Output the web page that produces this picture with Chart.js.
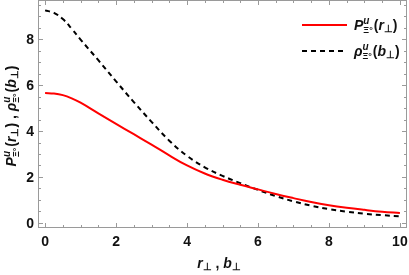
<!DOCTYPE html>
<html>
<head>
<meta charset="utf-8">
<script src="https://cdn.jsdelivr.net/npm/chart.js@4.4.1/dist/chart.umd.min.js"></script>
<style>
  html, body { margin: 0; padding: 0; background: #fff; }
  #wrap { width: 409px; height: 275px; }
</style>
</head>
<body>
<div id="wrap"><canvas id="chart" width="409" height="275"></canvas></div>
<script>
// values
const xValues = [0, 0.25, 0.5, 0.75, 1, 1.5, 2, 2.5, 3, 3.5, 4, 4.5, 5, 5.5, 6, 6.5, 7, 7.5, 8, 8.5, 9, 9.5, 10];
const probValues = [5.65, 5.63, 5.56, 5.42, 5.23, 4.77, 4.31, 3.86, 3.41, 2.94, 2.50, 2.15, 1.88, 1.66, 1.46, 1.26, 1.08, 0.91, 0.77, 0.66, 0.57, 0.49, 0.43];
const densValues = [9.25, 9.14, 8.87, 8.45, 7.98, 7.08, 6.16, 5.26, 4.40, 3.58, 2.92, 2.42, 2.05, 1.73, 1.44, 1.17, 0.94, 0.75, 0.60, 0.49, 0.40, 0.34, 0.29];
const xTicks = [0, 2, 4, 6, 8, 10];
const yTicks = [0, 2, 4, 6, 8];

const FONT = '"Liberation Sans", Arial, sans-serif';
const FRAME = '#9a9a9a';

// draw a run of segments: {t, it, sz, dy}; stacked sup/sub via {stack}
function drawRich(ctx, parts, x, y) {
  let cx = x;
  parts.forEach(p => {
    if (p.stack) {
      ctx.font = 'italic bold 10px ' + FONT;
      const w1 = ctx.measureText(p.stack.sup).width;
      ctx.fillText(p.stack.sup, cx, y - 6);
      ctx.font = 'bold 9px ' + FONT;
      const w2 = ctx.measureText(p.stack.sub).width;
      ctx.fillText(p.stack.sub, cx, y + 3);
      cx += Math.max(w1, w2) + 1;
    } else {
      ctx.font = (p.it ? 'italic ' : '') + 'bold ' + (p.sz || 14) + 'px ' + FONT;
      ctx.fillText(p.t, cx, y + (p.dy || 0));
      cx += ctx.measureText(p.t).width;
    }
  });
  return cx - x;
}

function measureRich(ctx, parts) {
  let w = 0;
  parts.forEach(p => {
    if (p.stack) {
      ctx.font = 'italic bold 10px ' + FONT;
      const w1 = ctx.measureText(p.stack.sup).width;
      ctx.font = 'bold 9px ' + FONT;
      w += Math.max(w1, ctx.measureText(p.stack.sub).width) + 1;
    } else {
      ctx.font = (p.it ? 'italic ' : '') + 'bold ' + (p.sz || 14) + 'px ' + FONT;
      w += ctx.measureText(p.t).width;
    }
  });
  return w;
}

const pLabel = [
  { t: 'P', it: true },
  { stack: { sup: 'u', sub: 'Ξ°' } },
  { t: '(' }, { t: 'r', it: true }, { t: '⊥', sz: 10, dy: 2 }, { t: ')' }
];
const rhoLabel = [
  { t: 'ρ', it: true },
  { stack: { sup: 'u', sub: 'Ξ°' } },
  { t: '(' }, { t: 'b', it: true }, { t: '⊥', sz: 10, dy: 2 }, { t: ')' }
];

const framePlugin = {
  id: 'frame',
  afterDraw(chart) {
    const ctx = chart.ctx;
    const a = chart.chartArea;
    const xs = chart.scales.x, ys = chart.scales.y;
    ctx.save();
    ctx.strokeStyle = FRAME;
    ctx.lineWidth = 1;
    ctx.strokeRect(Math.round(a.left) + 0.5, Math.round(a.top) + 0.5,
      Math.round(a.right - a.left) - 1, Math.round(a.bottom - a.top) - 1);

    // inward ticks on all four sides
    ctx.beginPath();
    for (let v = 0; v <= 10.001; v += 0.5) {
      const px = Math.round(xs.getPixelForValue(v)) + 0.5;
      const len = xTicks.includes(v) ? 5 : 3;
      ctx.moveTo(px, a.bottom); ctx.lineTo(px, a.bottom - len);
      ctx.moveTo(px, a.top); ctx.lineTo(px, a.top + len);
    }
    for (let v = 0; v <= 9.5; v += 0.5) {
      const py = Math.round(ys.getPixelForValue(v)) + 0.5;
      const len = yTicks.includes(v) ? 5 : 3;
      ctx.moveTo(a.left, py); ctx.lineTo(a.left + len, py);
      ctx.moveTo(a.right, py); ctx.lineTo(a.right - len, py);
    }
    ctx.stroke();

    // tick labels
    ctx.fillStyle = '#111';
    ctx.font = 'bold 14px ' + FONT;
    ctx.textAlign = 'center';
    ctx.textBaseline = 'alphabetic';
    xTicks.forEach(v => ctx.fillText(String(v), xs.getPixelForValue(v), 246));
    ctx.textAlign = 'right';
    yTicks.forEach(v => ctx.fillText(String(v), 34, ys.getPixelForValue(v) + 5));

    // x title
    ctx.textAlign = 'left';
    const xt = [{ t: 'r', it: true }, { t: '⊥', sz: 10, dy: 2 }, { t: ' , ' }, { t: 'b', it: true }, { t: '⊥', sz: 10, dy: 2 }];
    const xw = measureRich(ctx, xt);
    drawRich(ctx, xt, 219 - xw / 2, 268);

    // y title, rotated
    const yt = pLabel.concat([{ t: ' , ' }], rhoLabel);
    const yw = measureRich(ctx, yt);
    ctx.save();
    ctx.translate(16, 116);
    ctx.rotate(-Math.PI / 2);
    drawRich(ctx, yt, -yw / 2, 0);
    ctx.restore();

    // legend
    ctx.lineWidth = 2;
    ctx.strokeStyle = '#ff0000';
    ctx.beginPath(); ctx.moveTo(302, 25); ctx.lineTo(347, 25); ctx.stroke();
    ctx.strokeStyle = '#000';
    ctx.setLineDash([5, 4]);
    ctx.beginPath(); ctx.moveTo(302, 51); ctx.lineTo(347, 51); ctx.stroke();
    ctx.setLineDash([]);
    drawRich(ctx, pLabel, 354, 30);
    drawRich(ctx, rhoLabel, 354, 56);
    ctx.restore();
  }
};

new Chart(document.getElementById('chart'), {
  type: 'line',
  data: {
    datasets: [
      {
        label: 'P',
        data: xValues.map((x, i) => ({ x, y: probValues[i] })),
        borderColor: '#ff0000',
        borderWidth: 2,
        pointRadius: 0,
        tension: 0.4,
        fill: false,
      },
      {
        label: 'rho',
        data: xValues.map((x, i) => ({ x, y: densValues[i] })),
        borderColor: '#000000',
        borderWidth: 2,
        borderDash: [5, 4],
        pointRadius: 0,
        tension: 0.4,
        fill: false,
      },
    ],
  },
  options: {
    responsive: false,
    animation: false,
    layout: { padding: { left: 38, right: 2, top: 0, bottom: 47 } },
    plugins: { legend: { display: false }, tooltip: { enabled: false } },
    scales: {
      x: { type: 'linear', min: -0.2, max: 10.2, display: false },
      y: { type: 'linear', min: -0.22, max: 9.7, display: false },
    },
  },
  plugins: [framePlugin],
});
</script>
</body>
</html>
